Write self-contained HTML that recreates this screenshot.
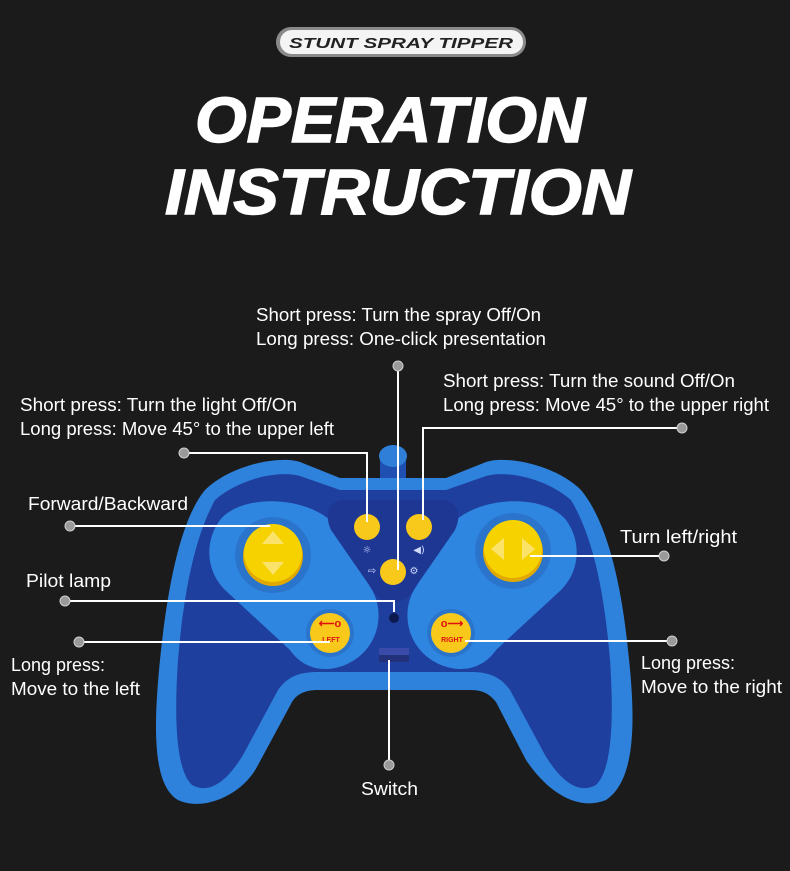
<!DOCTYPE html>
<html><head><meta charset="utf-8"><style>
html,body{margin:0;padding:0;background:#1b1b1b;}
svg{display:block}
.t{font-family:"Liberation Sans",sans-serif;font-size:18px;fill:#fff}
</style></head><body>
<svg width="790" height="871" viewBox="0 0 790 871" xmlns="http://www.w3.org/2000/svg">
<rect width="790" height="871" fill="#1b1b1b"/>
<!-- badge -->
<rect x="276" y="27" width="250" height="30" rx="15" fill="#8a8a8a"/>
<rect x="280" y="30" width="243" height="24" rx="12" fill="#f4f4f4"/>
<text x="401" y="48" text-anchor="middle" font-family="Liberation Sans,sans-serif" font-weight="bold" font-style="italic" font-size="15" fill="#222" textLength="224" lengthAdjust="spacingAndGlyphs">STUNT  SPRAY  TIPPER</text>
<!-- title -->
<text x="390" y="142" text-anchor="middle" font-family="Liberation Sans,sans-serif" font-weight="bold" font-style="italic" font-size="64" fill="#fff" stroke="#fff" stroke-width="1.5" textLength="390" lengthAdjust="spacingAndGlyphs">OPERATION</text>
<text x="398" y="214" text-anchor="middle" font-family="Liberation Sans,sans-serif" font-weight="bold" font-style="italic" font-size="64" fill="#fff" stroke="#fff" stroke-width="1.5" textLength="466" lengthAdjust="spacingAndGlyphs">INSTRUCTION</text>

<!-- antenna -->
<rect x="380" y="455" width="26" height="30" fill="#1f4fb0"/>
<ellipse cx="393" cy="456" rx="14" ry="11" fill="#2f7fd8"/>
<!-- controller body -->
<path d="M205,490 C230,465 280,455 300,462 L340,478 L446,478 L486,462 C506,455 556,465 581,490 C606,520 621,580 628,650 C636,720 636,780 606,800 C576,812 546,790 526,760 L496,702 C488,692 480,690 470,690 L318,690 C305,690 297,694 292,702 L258,765 C243,795 203,812 178,800 C153,785 153,730 160,660 C167,590 180,520 205,490 Z" fill="#2e82dc"/>
<path d="M215,500 C240,478 280,470 300,476 L340,490 L446,490 L486,476 C506,470 546,478 571,500 C595,540 605,600 610,660 C614,720 612,770 596,785 C578,795 560,780 545,755 L510,690 C500,676 488,672 470,672 L318,672 C300,672 288,676 278,690 L243,755 C228,780 210,795 192,785 C176,770 174,720 178,660 C183,600 193,540 215,500 Z" fill="#1f3f9f"/>
<!-- left panel -->
<path d="M220,520 C240,495 300,495 330,520 L372,590 C385,612 380,650 345,665 C320,675 300,665 290,650 L225,590 C205,570 205,540 220,520 Z" fill="#2f86e0"/>
<!-- right panel -->
<path d="M566,520 C546,495 486,495 456,520 L414,590 C401,612 406,650 441,665 C466,675 486,665 496,650 L561,590 C581,570 581,540 566,520 Z" fill="#2f86e0"/>
<!-- center panel -->
<path d="M345,500 L441,500 C458,500 462,515 455,530 L410,595 C400,605 386,605 376,595 L331,530 C324,515 328,500 345,500 Z" fill="#1d3793"/>
<!-- joysticks -->
<circle cx="273" cy="555" r="38" fill="#2a74cc"/>
<circle cx="273" cy="556" r="30" fill="#e0a800"/>
<circle cx="273" cy="553" r="29" fill="#f6d200"/>
<path d="M273,531 L284,544 L262,544 Z M273,575 L284,562 L262,562 Z" fill="#fbe36a"/>
<circle cx="513" cy="551" r="38" fill="#2a74cc"/>
<circle cx="513" cy="552" r="30" fill="#e0a800"/>
<circle cx="513" cy="549" r="29" fill="#f6d200"/>
<path d="M491,549 L504,538 L504,560 Z M535,549 L522,538 L522,560 Z" fill="#fbe36a"/>
<!-- small buttons -->
<circle cx="367" cy="527" r="13" fill="#f8c81a"/>
<circle cx="419" cy="527" r="13" fill="#f8c81a"/>
<circle cx="393" cy="572" r="13" fill="#f8c81a"/>
<text x="367" y="553" text-anchor="middle" font-size="10" fill="#cfd8ff" font-family="DejaVu Sans,sans-serif">☼</text>
<text x="419" y="553" text-anchor="middle" font-size="10" fill="#cfd8ff" font-family="DejaVu Sans,sans-serif">◀)</text>
<text x="372" y="574" text-anchor="middle" font-size="10" fill="#cfd8ff" font-family="DejaVu Sans,sans-serif">⇨</text>
<text x="414" y="574" text-anchor="middle" font-size="10" fill="#cfd8ff" font-family="DejaVu Sans,sans-serif">⚙</text>
<!-- pilot lamp -->
<circle cx="394" cy="618" r="5" fill="#0d1a50"/>
<!-- LEFT / RIGHT -->
<circle cx="330" cy="633" r="24" fill="#2a74cc"/>
<circle cx="330" cy="633" r="20" fill="#f8c81a"/>
<text x="330" y="627" text-anchor="middle" font-size="11" font-weight="bold" fill="#e01010" font-family="Liberation Sans,sans-serif">⟵o</text>
<text x="331" y="642" text-anchor="middle" font-size="7" font-weight="bold" fill="#e01010" font-family="Liberation Sans,sans-serif">LEFT</text>
<circle cx="451" cy="633" r="24" fill="#2a74cc"/>
<circle cx="451" cy="633" r="20" fill="#f8c81a"/>
<text x="452" y="627" text-anchor="middle" font-size="11" font-weight="bold" fill="#e01010" font-family="Liberation Sans,sans-serif">o⟶</text>
<text x="452" y="642" text-anchor="middle" font-size="7" font-weight="bold" fill="#e01010" font-family="Liberation Sans,sans-serif">RIGHT</text>
<!-- switch -->
<rect x="379" y="648" width="30" height="14" fill="#3a4aa8"/>
<rect x="379" y="655" width="30" height="7" fill="#23307a"/>

<!-- connectors -->
<g stroke="#fff" stroke-width="2" fill="none">
<path d="M398,366 L398,570"/>
<path d="M682,428 L423,428 L423,520"/>
<path d="M184,453 L367,453 L367,522"/>
<path d="M70,526 L270,526"/>
<path d="M530,556 L664,556"/>
<path d="M65,601 L394,601 L394,612"/>
<path d="M79,642 L330,642"/>
<path d="M465,641 L672,641"/>
<path d="M389,660 L389,765"/>
</g>
<g fill="#9a9a9a" stroke="#cfcfcf" stroke-width="1">
<circle cx="398" cy="366" r="5"/><circle cx="682" cy="428" r="5"/><circle cx="184" cy="453" r="5"/>
<circle cx="70" cy="526" r="5"/><circle cx="664" cy="556" r="5"/><circle cx="65" cy="601" r="5"/>
<circle cx="79" cy="642" r="5"/><circle cx="672" cy="641" r="5"/><circle cx="389" cy="765" r="5"/>
</g>

<!-- labels -->
<text class="t" x="256" y="321" textLength="285" lengthAdjust="spacingAndGlyphs">Short press: Turn the spray Off/On</text>
<text class="t" x="256" y="345" textLength="290" lengthAdjust="spacingAndGlyphs">Long press: One-click presentation</text>
<text class="t" x="443" y="387" textLength="292" lengthAdjust="spacingAndGlyphs">Short press: Turn the sound Off/On</text>
<text class="t" x="443" y="411" textLength="326" lengthAdjust="spacingAndGlyphs">Long press: Move 45° to the upper right</text>
<text class="t" x="20" y="411" textLength="277" lengthAdjust="spacingAndGlyphs">Short press: Turn the light Off/On</text>
<text class="t" x="20" y="435" textLength="314" lengthAdjust="spacingAndGlyphs">Long press: Move 45° to the upper left</text>
<text class="t" x="28" y="510" textLength="160" lengthAdjust="spacingAndGlyphs">Forward/Backward</text>
<text class="t" x="620" y="543" textLength="117" lengthAdjust="spacingAndGlyphs">Turn left/right</text>
<text class="t" x="26" y="587" textLength="85" lengthAdjust="spacingAndGlyphs">Pilot lamp</text>
<text class="t" x="11" y="671" textLength="94" lengthAdjust="spacingAndGlyphs">Long press:</text>
<text class="t" x="11" y="695" textLength="129" lengthAdjust="spacingAndGlyphs">Move to the left</text>
<text class="t" x="641" y="669" textLength="94" lengthAdjust="spacingAndGlyphs">Long press:</text>
<text class="t" x="641" y="693" textLength="141" lengthAdjust="spacingAndGlyphs">Move to the right</text>
<text class="t" x="361" y="795" textLength="57" lengthAdjust="spacingAndGlyphs">Switch</text>
</svg>
</body></html>
